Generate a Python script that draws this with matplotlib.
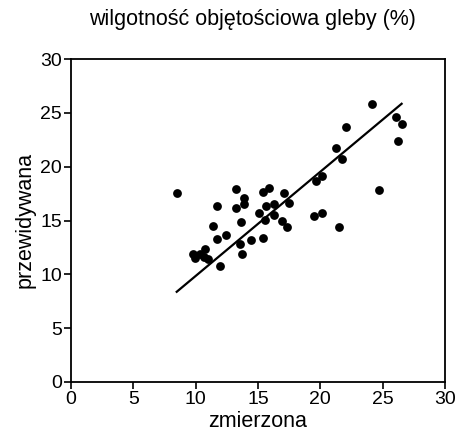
import matplotlib
matplotlib.use("Agg")
import matplotlib.pyplot as plt
import numpy as np

plt.rcParams['font.family'] = ['Liberation Sans', 'DejaVu Sans']

measured = [8.48, 11.68, 11.42, 11.68, 12.41, 9.76, 9.95, 10.35, 10.78, 10.67,
            10.96, 11.95, 13.24, 13.24, 13.85, 13.85, 13.66, 13.58, 13.74, 14.47,
            15.37, 15.11, 15.37, 15.86, 15.64, 15.59, 16.31, 16.28, 17.11, 16.93,
            17.30, 17.51, 19.47, 20.16, 19.65, 20.11, 21.26, 21.71, 21.47, 22.06,
            24.17, 24.71, 26.07, 26.52, 26.23]
predicted = [17.53, 16.38, 14.52, 13.28, 13.62, 11.85, 11.51, 11.88, 12.35, 11.63,
             11.39, 10.77, 17.96, 16.20, 17.13, 16.51, 14.83, 12.78, 11.85, 13.19,
             13.40, 15.67, 17.62, 18.06, 16.38, 15.02, 16.51, 15.54, 17.53, 14.96,
             14.37, 16.60, 15.45, 15.67, 18.71, 19.14, 21.75, 20.69, 14.37, 23.64,
             25.85, 17.87, 24.60, 23.98, 22.37]
fit_slope = 0.968
fit_intercept = 0.17
ticks = [0, 5, 10, 15, 20, 25, 30]

fig = plt.figure(figsize=(4.56, 4.41), dpi=100)
ax = fig.add_axes([71/456, 1-382/441, (445-71)/456, (382-59)/441])

ax.scatter(measured, predicted, s=40, color='black', zorder=3, linewidths=0)
xl = np.array([min(measured), max(measured)])
ax.plot(xl, fit_intercept + fit_slope * xl, color='black', lw=1.6)

ax.set_xlim(0, 30)
ax.set_ylim(0, 30)
ax.set_xticks(ticks)
ax.set_yticks(ticks)
ax.tick_params(direction='out', length=5, width=1.2, labelsize=14, pad=1.5,
               colors='black')
for s in ax.spines.values():
    s.set_linewidth(1.3)
ax.set_xlabel('zmierzona', fontsize=15.5, labelpad=2)
ax.set_ylabel('przewidywana', fontsize=15.5, labelpad=3)
fig.text(252/456, 1-20/441, 'wilgotność objętościowa gleby (%)', fontsize=15.5,
         ha='center', va='center')

fig.savefig('out.png', dpi=100)
